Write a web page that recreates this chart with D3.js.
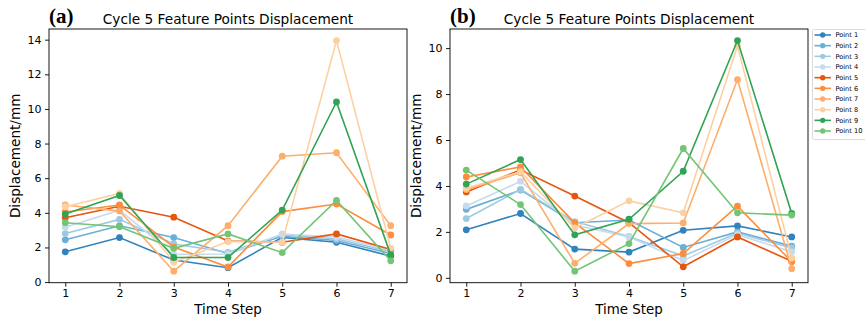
<!DOCTYPE html>
<html>
<head>
<meta charset="utf-8">
<script src="https://cdn.jsdelivr.net/npm/d3@7"></script>
<style>
  body { margin: 0; background: #fff; }
  svg { display: block; font-family: "DejaVu Sans", sans-serif; }
</style>
</head>
<body>
<svg id="chart" width="865" height="320"></svg>
<script>
// time steps and point names
const steps = [1, 2, 3, 4, 5, 6, 7];
const pointNames = ['Point 1', 'Point 2', 'Point 3', 'Point 4', 'Point 5',
  'Point 6', 'Point 7', 'Point 8', 'Point 9', 'Point 10'];
const colors = ['#3182bd', '#6baed6', '#9ecae1', '#c6dbef', '#e6550d',
  '#fd8d3c', '#fdae6b', '#fdd0a2', '#31a354', '#74c476'];

// (a) displacement per point, one row per point
const dispA = [
  [1.75, 2.57, 1.27, 0.83, 2.58, 2.30, 1.50],
  [2.44, 3.25, 2.57, 1.65, 2.65, 2.40, 1.65],
  [2.80, 3.62, 2.20, 1.72, 2.72, 2.50, 1.75],
  [3.17, 4.15, 1.60, 1.62, 2.78, 2.60, 1.82],
  [3.72, 4.38, 3.75, 2.37, 2.30, 2.78, 1.88],
  [4.05, 4.45, 2.02, 0.87, 4.07, 4.51, 2.72],
  [4.45, 4.10, 0.63, 3.26, 7.27, 7.47, 3.26],
  [4.35, 5.12, 1.15, 2.34, 2.30, 13.95, 1.96],
  [3.93, 5.00, 1.42, 1.42, 4.16, 10.40, 1.57],
  [3.43, 3.20, 1.95, 2.78, 1.70, 4.72, 1.23]
];

// (b) displacement per point
const dispB = [
  [2.09, 2.80, 1.25, 1.12, 2.07, 2.26, 1.78],
  [2.98, 3.82, 2.40, 2.52, 1.32, 2.00, 1.38],
  [2.58, 3.85, 2.45, 1.80, 0.95, 1.95, 1.30],
  [3.13, 4.20, 2.30, 1.78, 0.75, 1.88, 1.13],
  [3.74, 4.70, 3.56, 2.40, 0.48, 1.78, 0.72],
  [4.39, 4.83, 2.39, 0.62, 1.06, 3.12, 0.70],
  [3.84, 4.57, 0.63, 2.36, 2.39, 8.63, 0.40],
  [3.90, 4.62, 2.17, 3.35, 2.83, 10.10, 0.86],
  [4.08, 5.15, 1.87, 2.55, 4.64, 10.33, 2.80],
  [4.69, 3.19, 0.29, 1.49, 5.63, 2.83, 2.73]
];

const yTicksA = [0, 2, 4, 6, 8, 10, 12, 14];
const yTicksB = [0, 2, 4, 6, 8, 10];

const svg = d3.select('#chart');
const plotTop = 29, plotBottom = 282.7;

function drawPanel(left, right, data, yTicks, tag) {
  const g = svg.append('g');
  const x = d3.scaleLinear().domain([0.7, 7.3]).range([left, right]);
  // matplotlib style 5% margins
  const all = data.flat();
  const lo = d3.min(all), hi = d3.max(all), pad = (hi - lo) * 0.05;
  const y = d3.scaleLinear().domain([lo - pad, hi + pad]).range([plotBottom, plotTop]);

  // axes
  const xAxis = d3.axisBottom(x).tickValues(steps).tickFormat(d3.format('d'))
    .tickSize(4).tickPadding(3);
  g.append('g').attr('transform', `translate(0,${plotBottom})`).call(xAxis);
  const yAxis = d3.axisLeft(y).tickValues(yTicks).tickFormat(d3.format('d'))
    .tickSize(4).tickPadding(3.5);
  g.append('g').attr('transform', `translate(${left},0)`).call(yAxis);
  g.selectAll('.domain').remove();
  g.selectAll('.tick line').attr('stroke', '#000').attr('stroke-width', 0.9);
  g.selectAll('.tick text').attr('fill', '#000')
    .style('font-size', '11px').style('font-family', '"DejaVu Sans", sans-serif');

  // series
  const line = d3.line().x((d, i) => x(steps[i])).y(d => y(d));
  data.forEach((row, k) => {
    g.append('path').datum(row)
      .attr('d', line).attr('fill', 'none')
      .attr('stroke', colors[k]).attr('stroke-width', 1.6);
    g.selectAll(null).data(row).enter().append('circle')
      .attr('cx', (d, i) => x(steps[i])).attr('cy', d => y(d))
      .attr('r', 3.4).attr('fill', colors[k]);
  });

  // frame
  g.append('rect').attr('x', left).attr('y', plotTop)
    .attr('width', right - left).attr('height', plotBottom - plotTop)
    .attr('fill', 'none').attr('stroke', '#000').attr('stroke-width', 0.9);

  // texts
  g.append('text').attr('x', (left + right) / 2).attr('y', 24)
    .attr('text-anchor', 'middle').style('font-size', '13.7px')
    .text('Cycle 5 Feature Points Displacement');
  g.append('text').attr('x', left).attr('y', 22.5)
    .style('font-family', '"Liberation Serif", "Times New Roman", serif')
    .style('font-weight', 'bold').style('font-size', '21px')
    .text(tag);
  g.append('text').attr('x', (left + right) / 2).attr('y', 314)
    .attr('text-anchor', 'middle').style('font-size', '13.4px')
    .text('Time Step');
  g.append('text')
    .attr('transform', `translate(${left - 29.5},${(plotTop + plotBottom) / 2}) rotate(-90)`)
    .attr('text-anchor', 'middle').style('font-size', '13.6px')
    .text('Displacement/mm');
}

drawPanel(49, 407, dispA, yTicksA, '(a)');
drawPanel(450, 808, dispB, yTicksB, '(b)');

// legend
const leg = svg.append('g').attr('transform', 'translate(812.5,29.5)');
leg.append('rect').attr('width', 56).attr('height', 110).attr('rx', 2)
  .attr('fill', '#fff').attr('fill-opacity', 0.8)
  .attr('stroke', '#d0d0d0').attr('stroke-width', 0.8);
pointNames.forEach((name, k) => {
  const yy = 5.5 + k * 10.67;
  leg.append('line').attr('x1', 2).attr('x2', 18.5).attr('y1', yy).attr('y2', yy)
    .attr('stroke', colors[k]).attr('stroke-width', 1.6);
  leg.append('circle').attr('cx', 10.2).attr('cy', yy).attr('r', 2.7).attr('fill', colors[k]);
  leg.append('text').attr('x', 23).attr('y', yy + 2.3)
    .style('font-size', '6.6px').text(name);
});
</script>
</body>
</html>
